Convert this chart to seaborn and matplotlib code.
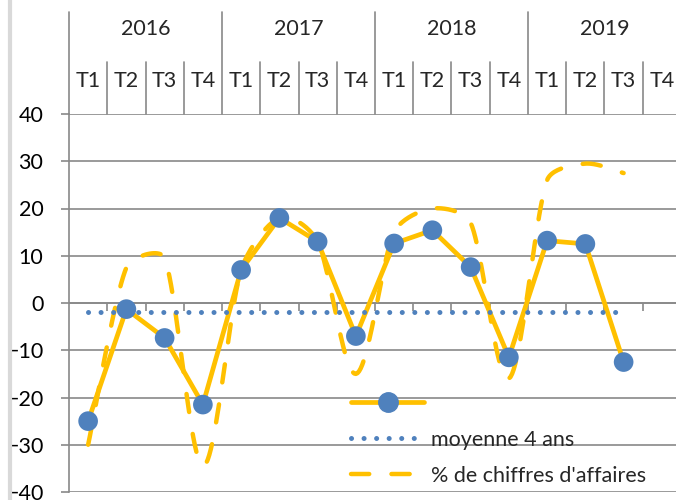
import numpy as np
import pandas as pd
import seaborn as sns
import matplotlib.pyplot as plt
from matplotlib.lines import Line2D
from matplotlib.transforms import blended_transform_factory

# data
annees = ['2016', '2017', '2018', '2019']
trimestres = ['T1', 'T2', 'T3', 'T4']
indice = [-25, -1.3, -7.4, -21.5, 7, 18, 13, -7, 12.6, 15.4, 7.6, -11.5, 13.2, 12.5, -12.5]
chiffre_affaires = [-30, 7.5, 9.5, -34.5, 7, 18, 13, -15, 15, 20, 17, -16, 26, 29.5, 27.5]
moyenne_4_ans = -2

jaune = '#FFC000'
bleu = '#4F81BD'
gris = '#898989'

labels = [q for a in annees for q in trimestres]
n_cat = len(labels)
pos = np.arange(len(indice))
df = pd.DataFrame({'pos': pos, 'indice': indice, 'ca': chiffre_affaires})


def lisser(xs, ys, s, k=0.3, n=25):
    # excel-like smoothed line (bezier through the points)
    P = np.column_stack([xs, np.asarray(ys, float) * s])
    pts = []
    for i in range(len(P) - 1):
        p0, p1 = P[i], P[i + 1]
        prev = P[i - 1] if i > 0 else P[i]
        nxt = P[i + 2] if i + 2 < len(P) else P[i + 1]
        t0 = p1 - prev
        t1 = nxt - p0
        L = np.linalg.norm(p1 - p0)
        a0 = min(np.linalg.norm(t0) / 6, k * L)
        a1 = min(np.linalg.norm(t1) / 6, k * L)
        c0 = p0 + t0 / np.linalg.norm(t0) * a0
        c1 = p1 - t1 / np.linalg.norm(t1) * a1
        t = np.linspace(0, 1, n)[:, None]
        seg = (1 - t) ** 3 * p0 + 3 * (1 - t) ** 2 * t * c0 + 3 * (1 - t) * t ** 2 * c1 + t ** 3 * p1
        pts.append(seg if i == 0 else seg[1:])
    pts = np.vstack(pts)
    return pts[:, 0], pts[:, 1] / s


sns.set_theme(style='white')
plt.rcParams['font.family'] = ['Lato', 'DejaVu Sans']

fig = plt.figure(figsize=(6.76, 5), dpi=100)
ax = fig.add_axes([69 / 676, 8 / 500, 612 / 676, 378 / 500])
ax.set_xlim(-0.5, n_cat - 0.5)
ax.set_ylim(-40, 40)

# pixel aspect for the smoothing
s = (378 / 80) / (612 / n_cat)
xs, ys = lisser(pos, chiffre_affaires, s)

ax.set_yticks(range(-40, 41, 10))
ax.grid(axis='y', color=gris, lw=1.2)
ax.set_axisbelow(True)
for sp in ['top', 'right', 'bottom']:
    ax.spines[sp].set_visible(False)
ax.spines['left'].set_color(gris)
ax.spines['left'].set_linewidth(1.2)
ax.set_xticks([])
ax.tick_params(axis='y', left=True, length=6, width=1.2, color=gris, labelsize=15.5, pad=12.5, labelcolor='black')

# axe horizontal a 0 avec graduations
ax.axhline(0, color=gris, lw=1.2, zorder=1)
ax.vlines(np.arange(0.5, n_cat - 0.5), -1.75, 0, color=gris, lw=1.2, zorder=1)

sns.lineplot(data=df, x='pos', y='indice', color=jaune, lw=3.4, ax=ax, zorder=2)
ax.plot(xs, ys, color=jaune, lw=3.2, dashes=(4.1, 5.0), dash_capstyle='round', zorder=3)
ax.plot([pos[0], pos[-1]], [moyenne_4_ans, moyenne_4_ans], color=bleu, lw=3.6,
        dashes=(0.01, 2.5), dash_capstyle='round', zorder=3)
sns.scatterplot(data=df, x='pos', y='indice', color=bleu, s=200, edgecolor='none', ax=ax, zorder=5)
ax.set_xlabel('')
ax.set_ylabel('')

# en-tete annees / trimestres
tr = blended_transform_factory(ax.transData, fig.transFigure)
top = 1 - 114 / 500
for i, q in enumerate(labels):
    ax.text(i, 1 - 81 / 500, q, transform=tr, ha='center', va='center', fontsize=15.5, clip_on=False)
    if i % 4:
        ax.plot([i - 0.5, i - 0.5], [top, 1 - 62 / 500], transform=tr, color=gris, lw=1.2, clip_on=False)
for j, a in enumerate(annees):
    ax.text(j * 4 + 1.5, 1 - 29 / 500, a, transform=tr, ha='center', va='center', fontsize=15.5, clip_on=False)
for j in range(len(annees) + 1):
    ax.plot([j * 4 - 0.5, j * 4 - 0.5], [top, 1 - 12 / 500], transform=tr, color=gris, lw=1.2, clip_on=False)

# bord gauche
fig.add_artist(Line2D([10 / 676, 10 / 676], [0, 1], color='#d9d9d9', lw=3))

handles = [
    Line2D([], [], color=jaune, lw=3.4, marker='o', markersize=14, markerfacecolor=bleu, markeredgecolor=bleu),
    Line2D([], [], color=bleu, lw=3.6, dashes=(0.01, 2.5), dash_capstyle='round'),
    Line2D([], [], color=jaune, lw=3.2, dashes=(4.1, 5.0), dash_capstyle='round'),
]
ax.legend(handles, ['', 'moyenne 4 ans', "% de chiffres d'affaires"], loc='lower left',
          bbox_to_anchor=(351 / 676, 14 / 500), bbox_transform=fig.transFigure, frameon=False,
          fontsize=15.5, handlelength=3.4, handletextpad=0.3, borderpad=0, borderaxespad=0,
          labelspacing=0.75)

fig.savefig('out.png', dpi=100)
